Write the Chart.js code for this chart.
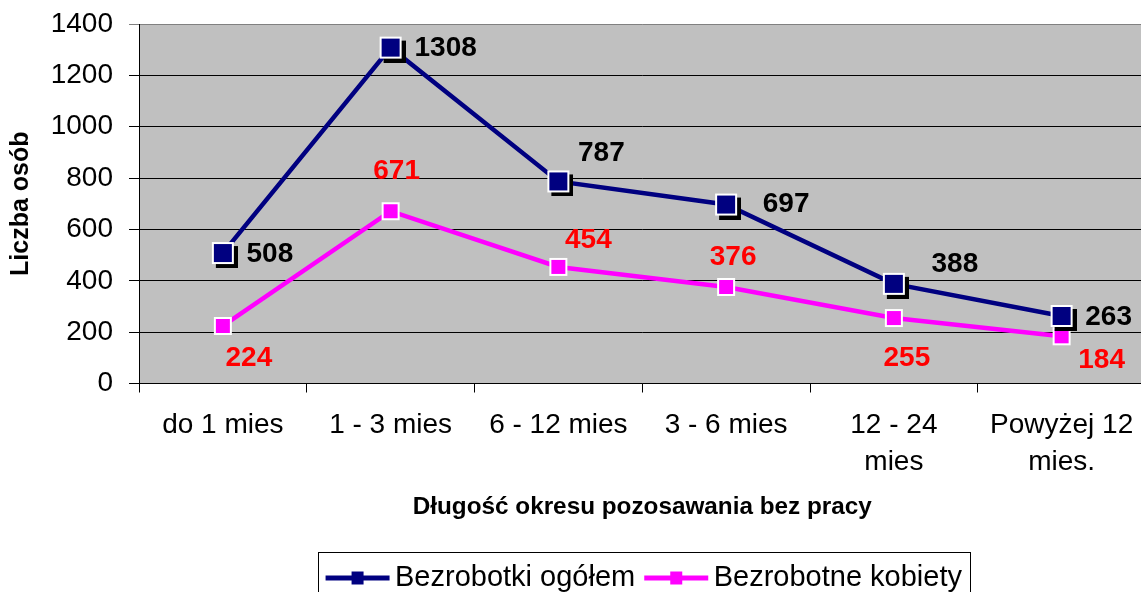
<!DOCTYPE html>
<html>
<head>
<meta charset="utf-8">
<script src="https://cdn.jsdelivr.net/npm/chart.js@4.4.1/dist/chart.umd.min.js"></script>
<style>
  html, body { margin: 0; padding: 0; overflow: hidden; background: #fff; }
  #wrap { width: 1160px; height: 620px; }
</style>
</head>
<body>
<div id="wrap"><canvas id="chart" width="1160" height="620"></canvas></div>
<script>
const categories = ['do 1 mies', '1 - 3 mies', '6 - 12 mies', '3 - 6 mies', ['12 - 24', 'mies'], ['Powyżej 12', 'mies.']];
const totalUnemployed = [508, 1308, 787, 697, 388, 263];
const unemployedWomen = [224, 671, 454, 376, 255, 184];
const seriesNames = ['Bezrobotki ogółem', 'Bezrobotne kobiety'];
const yMin = 0;
const yMax = 1400;
const yStep = 200;

// label offsets from the point (px)
const totalLabelOffsets = [[47, 1], [55, 1], [43, -28], [60, 0], [61, -20], [47, 1]];
const womenLabelOffsets = [[26, 32], [6, -40], [30, -27], [7, -30], [13, 40], [40, 24]];

const NAVY = '#000080';
const PINK = '#FF00FF';
const FONT = '"Liberation Sans", Arial, sans-serif';

function makeMarker(color, shadow) {
  const c = document.createElement('canvas');
  const ctx = c.getContext('2d');
  if (shadow) {
    c.width = c.height = 30;
    ctx.fillStyle = '#000';
    ctx.fillRect(8, 8, 22, 22);
    ctx.fillStyle = '#fff';
    ctx.fillRect(4, 4, 22, 22);
    ctx.fillStyle = color;
    ctx.fillRect(6, 6, 18, 18);
  } else {
    c.width = c.height = 22;
    ctx.fillStyle = '#fff';
    ctx.fillRect(2, 2, 18, 18);
    ctx.fillStyle = color;
    ctx.fillRect(4, 4, 14, 14);
  }
  return c;
}

function makeLegendSymbol(color) {
  const c = document.createElement('canvas');
  c.width = 66;
  c.height = 20;
  const ctx = c.getContext('2d');
  ctx.fillStyle = color;
  ctx.fillRect(1, 8, 64, 5);
  ctx.fillRect(27, 4, 12, 13);
  return c;
}

const plotBackground = {
  id: 'plotBackground',
  beforeDraw(chart) {
    const { ctx, chartArea: a } = chart;
    ctx.save();
    ctx.fillStyle = '#C0C0C0';
    ctx.fillRect(a.left, a.top, a.right - a.left, a.bottom - a.top);
    ctx.restore();
  },
};

const pointLabels = {
  id: 'pointLabels',
  afterDatasetsDraw(chart) {
    const { ctx } = chart;
    const styles = [
      { color: '#000000', offsets: totalLabelOffsets },
      { color: '#FF0000', offsets: womenLabelOffsets },
    ];
    ctx.save();
    ctx.font = 'bold 28px ' + FONT;
    ctx.textAlign = 'center';
    ctx.textBaseline = 'middle';
    chart.data.datasets.forEach((ds, i) => {
      const meta = chart.getDatasetMeta(i);
      ctx.fillStyle = styles[i].color;
      meta.data.forEach((pt, j) => {
        const [dx, dy] = styles[i].offsets[j];
        ctx.fillText(String(ds.data[j]), pt.x + dx, pt.y + dy);
      });
    });
    ctx.restore();
  },
};

const legendFrame = {
  id: 'legendFrame',
  afterLayout(chart) {
    const lg = chart.legend;
    lg.left = chart.chartArea.left + 12;
    lg.right = chart.chartArea.right;
  },
  afterDraw(chart) {
    const boxes = chart.legend.legendHitBoxes;
    if (!boxes || !boxes.length) return;
    const first = boxes[0];
    const last = boxes[boxes.length - 1];
    const { ctx } = chart;
    ctx.save();
    ctx.strokeStyle = '#000';
    ctx.lineWidth = 1;
    const left = Math.round(first.left - 17) + 0.5;
    const right = Math.round(last.left + last.width + 8) + 0.5;
    const top = Math.round(first.top - 11) + 0.5;
    ctx.strokeRect(left, top, right - left, 80);
    ctx.restore();
  },
};

const legendSymbols = [makeLegendSymbol(NAVY), makeLegendSymbol(PINK)];

new Chart(document.getElementById('chart').getContext('2d'), {
  type: 'line',
  data: {
    labels: categories,
    datasets: [
      {
        label: seriesNames[0],
        data: totalUnemployed,
        borderColor: NAVY,
        borderWidth: 4.5,
        pointStyle: makeMarker(NAVY, true),
        pointRadius: 10,
        tension: 0,
      },
      {
        label: seriesNames[1],
        data: unemployedWomen,
        borderColor: PINK,
        borderWidth: 4.5,
        pointStyle: makeMarker(PINK, false),
        pointRadius: 9,
        tension: 0,
      },
    ],
  },
  options: {
    responsive: false,
    animation: false,
    layout: { padding: { top: 24, right: 5, bottom: 18, left: 0 } },
    plugins: {
      tooltip: { enabled: false },
      legend: {
        position: 'bottom',
        labels: {
          usePointStyle: true,
          pointStyleWidth: 46,
          padding: 18,
          color: '#000',
          font: { family: FONT, size: 29 },
          generateLabels: (chart) =>
            chart.data.datasets.map((ds, i) => ({
              text: ds.label,
              pointStyle: legendSymbols[i],
              fillStyle: ds.borderColor,
              strokeStyle: ds.borderColor,
              lineWidth: 0,
              datasetIndex: i,
            })),
        },
      },
    },
    scales: {
      x: {
        offset: true,
        grid: {
          offset: true,
          drawOnChartArea: false,
          color: '#000',
          tickLength: 9,
        },
        border: { color: '#000' },
        ticks: {
          color: '#000',
          padding: 14,
          maxRotation: 0,
          autoSkip: false,
          font: { family: FONT, size: 28, lineHeight: 1.32 },
        },
        title: {
          display: true,
          text: 'Długość okresu pozosawania bez pracy',
          color: '#000',
          font: { family: FONT, size: 24.3, weight: 'bold' },
          padding: { top: 0, bottom: 23 },
        },
        afterFit: (scale) => {
          scale.height = 161.5;
          scale.paddingLeft = 0;
          scale.paddingRight = 0;
        },
      },
      y: {
        min: yMin,
        max: yMax,
        grid: {
          color: (c) => (c.tick && c.tick.value === yMax ? '#808080' : '#000'),
          tickLength: 10,
        },
        border: { color: '#000' },
        ticks: {
          stepSize: yStep,
          color: '#000',
          padding: 16,
          font: { family: FONT, size: 28 },
          callback: (value) => String(value),
        },
        title: {
          display: true,
          text: 'Liczba osób',
          color: '#000',
          font: { family: FONT, size: 25, weight: 'bold' },
          padding: { top: 6, bottom: 0 },
        },
        afterFit: (scale) => {
          scale.width = 139;
          scale.paddingTop = 0;
          scale.paddingBottom = 0;
        },
      },
    },
  },
  plugins: [plotBackground, pointLabels, legendFrame],
});
</script>
</body>
</html>
